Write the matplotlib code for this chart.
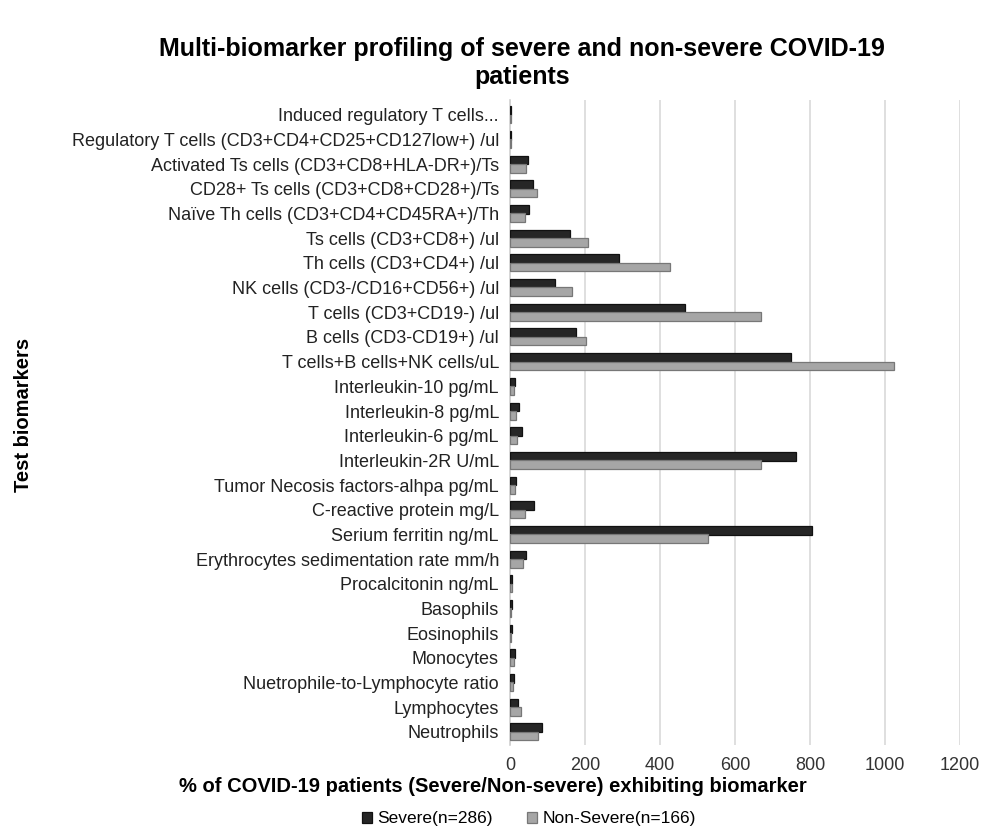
import numpy as np
import matplotlib.pyplot as plt

plt.rcParams['font.family'] = ['Liberation Sans', 'DejaVu Sans']

# categories, bottom to top
categories = [
    'Neutrophils', 'Lymphocytes', 'Nuetrophile-to-Lymphocyte ratio', 'Monocytes',
    'Eosinophils', 'Basophils', 'Procalcitonin ng/mL',
    'Erythrocytes sedimentation rate mm/h', 'Serium ferritin ng/mL',
    'C-reactive protein mg/L', 'Tumor Necosis factors-alhpa pg/mL',
    'Interleukin-2R U/mL', 'Interleukin-6 pg/mL', 'Interleukin-8 pg/mL',
    'Interleukin-10 pg/mL', 'T cells+B cells+NK cells/uL',
    'B cells (CD3-CD19+) /ul', 'T cells (CD3+CD19-) /ul',
    'NK cells (CD3-/CD16+CD56+) /ul', 'Th cells (CD3+CD4+) /ul',
    'Ts cells (CD3+CD8+) /ul', 'Naïve Th cells (CD3+CD4+CD45RA+)/Th',
    'CD28+ Ts cells (CD3+CD8+CD28+)/Ts', 'Activated Ts cells (CD3+CD8+HLA-DR+)/Ts',
    'Regulatory T cells (CD3+CD4+CD25+CD127low+) /ul', 'Induced regulatory T cells...',
]
severe = [86, 21, 11, 12, 5, 5, 5, 42, 806, 64, 15, 763, 33, 24, 12,
          749, 176, 467, 119, 291, 161, 51, 61, 48, 3, 3]
non_severe = [75, 30, 8, 10, 3, 3, 4, 35, 529, 39, 12, 669, 19, 17, 10,
              1024, 202, 669, 166, 427, 209, 40, 72, 42, 2, 2]
xticks = [0, 200, 400, 600, 800, 1000, 1200]

fig = plt.figure(figsize=(9.86, 8.31), dpi=100)
W, H = 986, 831
left, right, top, bottom = 510, 960, 100, 745
ax = fig.add_axes([left / W, 1 - bottom / H, (right - left) / W, (bottom - top) / H])

y = np.arange(len(categories))
h = 0.35
ax.barh(y + 0.17, severe, height=h, color='#262626', edgecolor='#111111', linewidth=0.9,
        label='Severe(n=286)', zorder=3)
ax.barh(y - 0.17, non_severe, height=h, color='#a6a6a6', edgecolor='#777777', linewidth=0.9,
        label='Non-Severe(n=166)', zorder=3)

ax.set_xlim(0, 1200)
ax.set_ylim(-0.53, len(categories) - 0.4)
ax.set_xticks(xticks)
ax.set_xticklabels([str(t) for t in xticks], fontsize=13, color='#333333')
ax.set_yticks(y)
ax.set_yticklabels(categories, fontsize=13, color='#222222')
ax.tick_params(axis='y', length=0, pad=8)
ax.tick_params(axis='x', length=0, pad=9)
ax.grid(axis='x', color='#d9d9d9', linewidth=1.2, zorder=0)
for s in ['top', 'right', 'bottom']:
    ax.spines[s].set_visible(False)
ax.spines['left'].set_color('#d0d0d0')
ax.spines['left'].set_linewidth(1.2)

fig.text(522 / W, 1 - 63 / H,
         'Multi-biomarker profiling of severe and non-severe COVID-19\npatients',
         ha='center', va='center', fontsize=18, fontweight='bold', linespacing=1.2)
fig.text(493 / W, 1 - 787 / H,
         '% of COVID-19 patients (Severe/Non-severe) exhibiting biomarker',
         ha='center', va='center', fontsize=14.5, fontweight='bold')
fig.text(24 / W, 1 - 415 / H, 'Test biomarkers', rotation=90,
         ha='center', va='center', fontsize=14.5, fontweight='bold')

fig.legend(loc='center', bbox_to_anchor=(529 / W, 1 - 819 / H), ncol=2, frameon=False,
           fontsize=12.5, handlelength=0.55, handleheight=0.55, handletextpad=0.3,
           columnspacing=2.0)

fig.savefig('out.png', dpi=100)
